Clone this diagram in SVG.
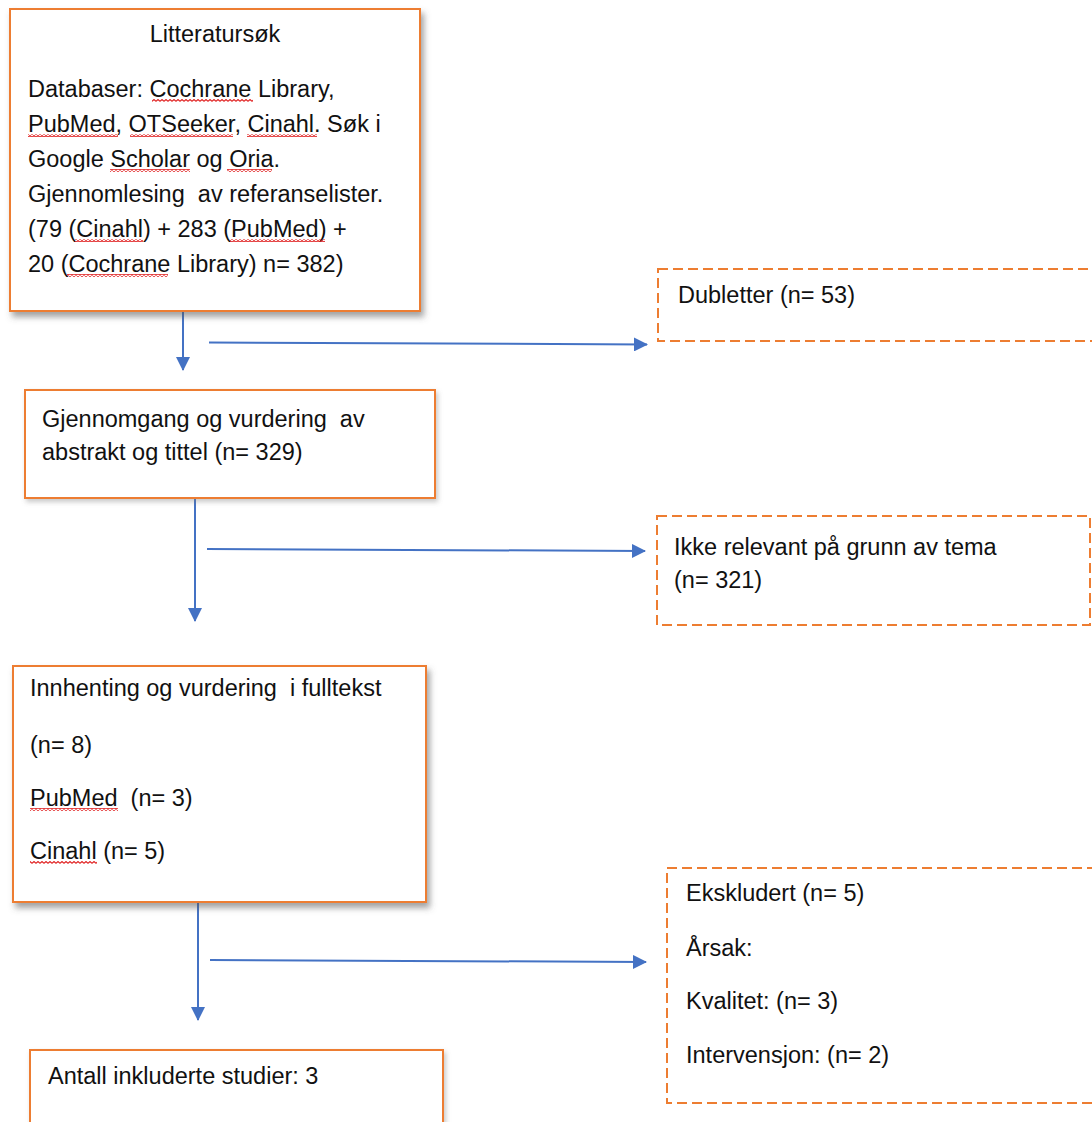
<svg xmlns="http://www.w3.org/2000/svg" width="1092" height="1122" viewBox="0 0 1092 1122">
<style>
.box{fill:#fff;stroke:#ED7D31;stroke-width:2}
.dash{fill:#fff;stroke:#ED7D31;stroke-width:2;stroke-dasharray:10 5}
.t{font-family:"Liberation Sans",Arial,sans-serif;font-size:23.5px;fill:#111;white-space:pre}
.c{stroke:#4472C4;stroke-width:2;fill:none}
.sp{fill:url(#wave)}
</style>
<defs>
<filter id="sh" x="-5%" y="-5%" width="115%" height="120%">
<feDropShadow dx="3" dy="5" stdDeviation="3" flood-color="#555" flood-opacity="0.55"/>
</filter>
<filter id="sh2" x="-5%" y="-5%" width="115%" height="120%">
<feDropShadow dx="2" dy="3" stdDeviation="2.5" flood-color="#777" flood-opacity="0.4"/>
</filter>
<pattern id="wave" width="4" height="3" patternUnits="userSpaceOnUse">
<path d="M0,2.4 L2,0.6 L4,2.4" stroke="#E02020" stroke-width="1.2" fill="none"/>
</pattern>
<marker id="ah" viewBox="0 0 14 14" refX="13" refY="7" markerWidth="14" markerHeight="14" markerUnits="userSpaceOnUse" orient="auto">
<path d="M0,0 L14,7 L0,14 Z" fill="#4472C4"/>
</marker>
</defs>

<g id="connectors">
<line class="c" x1="183" y1="311" x2="183" y2="370" marker-end="url(#ah)"/>
<line class="c" x1="209" y1="342.5" x2="647" y2="344.5" marker-end="url(#ah)"/>
<line class="c" x1="195" y1="498" x2="195" y2="621" marker-end="url(#ah)"/>
<line class="c" x1="207" y1="549" x2="645" y2="551" marker-end="url(#ah)"/>
<line class="c" x1="198" y1="902" x2="198" y2="1020" marker-end="url(#ah)"/>
<line class="c" x1="210" y1="960" x2="646" y2="962" marker-end="url(#ah)"/>
</g>

<g id="litteratursok">
<rect class="box" x="10" y="9" width="410" height="302" filter="url(#sh)"/>
<text class="t" x="215" y="42" text-anchor="middle">Litteratursøk</text>
<text class="t" x="28" y="97">Databaser: Cochrane Library,</text>
<text class="t" x="28" y="132">PubMed, OTSeeker, Cinahl. Søk i</text>
<text class="t" x="28" y="167">Google Scholar og Oria.</text>
<text class="t" x="28" y="202">Gjennomlesing  av referanselister.</text>
<text class="t" x="28" y="237">(79 (Cinahl) + 283 (PubMed) +</text>
<text class="t" x="28" y="272">20 (Cochrane Library) n= 382)</text>
<rect class="sp" x="152" y="99" width="101" height="3"/>
<rect class="sp" x="28" y="134" width="90" height="3"/>
<rect class="sp" x="130" y="134" width="103" height="3"/>
<rect class="sp" x="247" y="134" width="70" height="3"/>
<rect class="sp" x="110" y="169" width="80" height="3"/>
<rect class="sp" x="227" y="169" width="45" height="3"/>
<rect class="sp" x="75" y="239" width="68" height="3"/>
<rect class="sp" x="230" y="239" width="95" height="3"/>
<rect class="sp" x="67" y="274" width="101" height="3"/>
</g>

<g id="dubletter">
<rect class="dash" x="658" y="269" width="440" height="72"/>
<text class="t" x="678" y="303">Dubletter (n= 53)</text>
</g>

<g id="gjennomgang">
<rect class="box" x="25" y="390" width="410" height="108" filter="url(#sh2)"/>
<text class="t" x="42" y="427">Gjennomgang og vurdering  av</text>
<text class="t" x="42" y="460">abstrakt og tittel (n= 329)</text>
</g>

<g id="ikke-relevant">
<rect class="dash" x="657" y="516" width="433" height="109"/>
<text class="t" x="674" y="555">Ikke relevant på grunn av tema</text>
<text class="t" x="674" y="588">(n= 321)</text>
</g>

<g id="innhenting">
<rect class="box" x="13" y="666" width="413" height="236" filter="url(#sh)"/>
<text class="t" x="30" y="696">Innhenting og vurdering  i fulltekst</text>
<text class="t" x="30" y="753">(n= 8)</text>
<text class="t" x="30" y="806">PubMed  (n= 3)</text>
<text class="t" x="30" y="859">Cinahl (n= 5)</text>
<rect class="sp" x="30" y="808" width="88" height="3"/>
<rect class="sp" x="30" y="861" width="67" height="3"/>
</g>

<g id="ekskludert">
<rect class="dash" x="667" y="868" width="440" height="235"/>
<text class="t" x="686" y="901">Ekskludert (n= 5)</text>
<text class="t" x="686" y="956">Årsak:</text>
<text class="t" x="686" y="1009">Kvalitet: (n= 3)</text>
<text class="t" x="686" y="1063">Intervensjon: (n= 2)</text>
</g>

<g id="inkluderte">
<rect class="box" x="30" y="1050" width="413" height="90" filter="url(#sh2)"/>
<text class="t" x="48" y="1084">Antall inkluderte studier: 3</text>
</g>
</svg>
